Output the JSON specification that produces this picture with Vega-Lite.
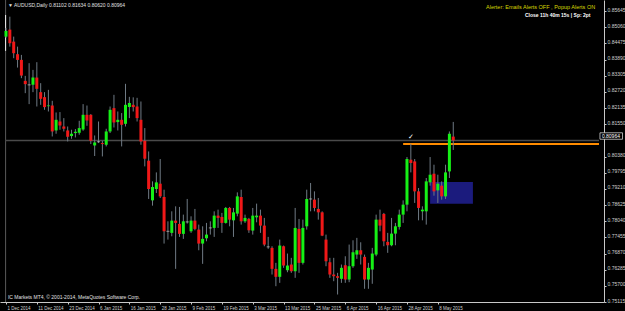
{
  "$schema": "https://vega.github.io/schema/vega-lite/v6.json",
  "width": 604,
  "height": 302,
  "autosize": {"type": "none"},
  "padding": {"left": 0, "top": 0, "right": 21, "bottom": 9},
  "background": "#000000",
  "config": {
    "view": {"stroke": null},
    "font": "Liberation Sans",
    "axis": {"grid": false, "labelFont": "Liberation Sans", "labelColor": "#d0d0d0", "domainColor": "#c8c8c8", "tickColor": "#c8c8c8", "title": null, "labelOverlap": false, "labelFlush": false, "tickSize": 2, "labelPadding": 1, "tickCount": 40},
    "axisY": {"labelOffset": -2, "format": ".5f", "labelBaseline": "middle", "labelFontSize": 5},
    "axisX": {"labelAlign": "left", "labelOffset": 1, "labelBaseline": "top", "labelFontSize": 4.5}
  },
  "datasets": {
    "candles": [
      {"i":0,"o":0.84722,"h":0.85036,"l":0.84675,"c":0.84928},
      {"i":1,"o":0.84975,"h":0.85444,"l":0.84360,"c":0.84483},
      {"i":2,"o":0.84541,"h":0.84722,"l":0.83941,"c":0.84122},
      {"i":3,"o":0.84086,"h":0.84360,"l":0.83602,"c":0.83880},
      {"i":4,"o":0.83880,"h":0.84060,"l":0.83218,"c":0.83312},
      {"i":5,"o":0.83121,"h":0.83301,"l":0.82676,"c":0.83002},
      {"i":6,"o":0.82976,"h":0.83761,"l":0.82279,"c":0.82976},
      {"i":7,"o":0.82976,"h":0.83518,"l":0.82712,"c":0.83240},
      {"i":8,"o":0.83240,"h":0.83797,"l":0.82192,"c":0.82832},
      {"i":9,"o":0.82712,"h":0.83038,"l":0.82253,"c":0.82470},
      {"i":10,"o":0.82531,"h":0.82712,"l":0.82073,"c":0.82170},
      {"i":11,"o":0.82205,"h":0.82795,"l":0.82012,"c":0.82230},
      {"i":12,"o":0.82228,"h":0.82398,"l":0.81108,"c":0.81289},
      {"i":13,"o":0.81325,"h":0.81976,"l":0.81206,"c":0.81711},
      {"i":14,"o":0.81650,"h":0.81990,"l":0.81350,"c":0.81505},
      {"i":15,"o":0.81469,"h":0.81772,"l":0.81289,"c":0.81386},
      {"i":16,"o":0.81325,"h":0.81469,"l":0.80927,"c":0.81097},
      {"i":17,"o":0.81123,"h":0.81350,"l":0.81024,"c":0.81206},
      {"i":18,"o":0.81231,"h":0.81375,"l":0.81072,"c":0.81278},
      {"i":19,"o":0.81242,"h":0.81675,"l":0.81169,"c":0.81411},
      {"i":20,"o":0.81361,"h":0.82279,"l":0.81314,"c":0.81892},
      {"i":21,"o":0.81892,"h":0.82228,"l":0.81494,"c":0.81686},
      {"i":22,"o":0.81892,"h":0.81918,"l":0.80833,"c":0.80952},
      {"i":23,"o":0.80782,"h":0.81144,"l":0.80400,"c":0.80891},
      {"i":24,"o":0.80916,"h":0.81650,"l":0.80869,"c":0.80916},
      {"i":25,"o":0.80869,"h":0.80952,"l":0.80385,"c":0.80833},
      {"i":26,"o":0.80808,"h":0.81386,"l":0.80747,"c":0.81289},
      {"i":27,"o":0.81289,"h":0.82192,"l":0.81231,"c":0.82073},
      {"i":28,"o":0.82134,"h":0.82615,"l":0.81433,"c":0.81614},
      {"i":29,"o":0.81628,"h":0.82012,"l":0.81325,"c":0.81711},
      {"i":30,"o":0.81711,"h":0.81954,"l":0.80747,"c":0.81530},
      {"i":31,"o":0.81566,"h":0.83013,"l":0.81469,"c":0.82253},
      {"i":32,"o":0.82170,"h":0.82542,"l":0.81772,"c":0.82315},
      {"i":33,"o":0.82253,"h":0.82524,"l":0.82012,"c":0.82170},
      {"i":34,"o":0.82192,"h":0.82506,"l":0.81650,"c":0.81772},
      {"i":35,"o":0.81711,"h":0.82373,"l":0.80808,"c":0.80927},
      {"i":36,"o":0.80952,"h":0.81411,"l":0.80025,"c":0.80302},
      {"i":37,"o":0.80230,"h":0.80566,"l":0.78845,"c":0.79206},
      {"i":38,"o":0.78795,"h":0.79482,"l":0.78603,"c":0.79279},
      {"i":39,"o":0.79206,"h":0.79807,"l":0.79062,"c":0.79446},
      {"i":40,"o":0.79398,"h":0.80291,"l":0.78881,"c":0.78939},
      {"i":41,"o":0.78917,"h":0.79181,"l":0.77230,"c":0.77675},
      {"i":42,"o":0.77675,"h":0.78036,"l":0.77374,"c":0.77675},
      {"i":43,"o":0.77617,"h":0.78398,"l":0.77494,"c":0.78061},
      {"i":44,"o":0.78061,"h":0.78578,"l":0.76315,"c":0.77978},
      {"i":45,"o":0.77942,"h":0.78556,"l":0.77472,"c":0.77581},
      {"i":46,"o":0.77581,"h":0.78278,"l":0.77400,"c":0.78036},
      {"i":47,"o":0.78014,"h":0.78845,"l":0.77953,"c":0.78014},
      {"i":48,"o":0.77675,"h":0.78217,"l":0.77617,"c":0.78061},
      {"i":49,"o":0.78061,"h":0.78484,"l":0.77711,"c":0.77761},
      {"i":50,"o":0.77736,"h":0.77917,"l":0.76988,"c":0.77230},
      {"i":51,"o":0.77230,"h":0.77855,"l":0.76496,"c":0.77400},
      {"i":52,"o":0.77422,"h":0.77978,"l":0.77313,"c":0.77555},
      {"i":53,"o":0.77797,"h":0.78036,"l":0.77555,"c":0.77797},
      {"i":54,"o":0.77797,"h":0.78398,"l":0.77472,"c":0.78242},
      {"i":55,"o":0.78242,"h":0.78459,"l":0.77797,"c":0.78159},
      {"i":56,"o":0.78195,"h":0.78340,"l":0.77617,"c":0.77978},
      {"i":57,"o":0.77978,"h":0.78556,"l":0.77953,"c":0.78520},
      {"i":58,"o":0.78520,"h":0.78556,"l":0.77855,"c":0.78097},
      {"i":59,"o":0.78072,"h":0.78520,"l":0.77472,"c":0.78361},
      {"i":60,"o":0.78314,"h":0.79084,"l":0.78217,"c":0.78939},
      {"i":61,"o":0.78917,"h":0.79181,"l":0.77917,"c":0.78036},
      {"i":62,"o":0.78036,"h":0.78278,"l":0.77978,"c":0.78159},
      {"i":63,"o":0.78123,"h":0.78159,"l":0.77617,"c":0.77711},
      {"i":64,"o":0.77700,"h":0.78520,"l":0.77555,"c":0.78242},
      {"i":65,"o":0.78181,"h":0.78676,"l":0.78000,"c":0.78242},
      {"i":66,"o":0.78242,"h":0.78459,"l":0.77617,"c":0.77881},
      {"i":67,"o":0.77881,"h":0.78159,"l":0.77133,"c":0.77194},
      {"i":68,"o":0.77111,"h":0.77472,"l":0.77038,"c":0.77111},
      {"i":69,"o":0.77074,"h":0.77133,"l":0.76110,"c":0.76315},
      {"i":70,"o":0.76315,"h":0.76532,"l":0.75687,"c":0.76026},
      {"i":71,"o":0.76026,"h":0.77374,"l":0.75809,"c":0.77158},
      {"i":72,"o":0.77133,"h":0.77158,"l":0.76352,"c":0.76435},
      {"i":73,"o":0.76265,"h":0.76869,"l":0.76193,"c":0.76435},
      {"i":74,"o":0.76471,"h":0.76713,"l":0.76171,"c":0.76229},
      {"i":75,"o":0.76229,"h":0.78520,"l":0.75990,"c":0.77797},
      {"i":76,"o":0.77761,"h":0.78122,"l":0.76171,"c":0.76532},
      {"i":77,"o":0.76532,"h":0.78097,"l":0.76471,"c":0.77797},
      {"i":78,"o":0.77855,"h":0.79181,"l":0.77736,"c":0.78845},
      {"i":79,"o":0.78845,"h":0.79424,"l":0.78398,"c":0.78845},
      {"i":80,"o":0.78820,"h":0.79120,"l":0.78398,"c":0.78520},
      {"i":81,"o":0.78484,"h":0.78881,"l":0.78097,"c":0.78361},
      {"i":82,"o":0.78361,"h":0.78398,"l":0.77500,"c":0.77519},
      {"i":83,"o":0.77374,"h":0.77555,"l":0.76410,"c":0.76590},
      {"i":84,"o":0.76554,"h":0.76713,"l":0.75990,"c":0.76110},
      {"i":85,"o":0.76110,"h":0.76713,"l":0.75868,"c":0.76049},
      {"i":86,"o":0.76049,"h":0.76171,"l":0.75386,"c":0.75990},
      {"i":87,"o":0.75954,"h":0.76471,"l":0.75809,"c":0.76352},
      {"i":88,"o":0.76446,"h":0.76771,"l":0.75809,"c":0.75929},
      {"i":89,"o":0.75929,"h":0.77194,"l":0.75832,"c":0.76410},
      {"i":90,"o":0.76410,"h":0.77349,"l":0.76352,"c":0.76916},
      {"i":91,"o":0.76832,"h":0.77436,"l":0.76677,"c":0.76988},
      {"i":92,"o":0.76988,"h":0.77277,"l":0.76471,"c":0.76832},
      {"i":93,"o":0.76749,"h":0.76832,"l":0.75593,"c":0.75929},
      {"i":94,"o":0.75929,"h":0.76532,"l":0.75593,"c":0.76352},
      {"i":95,"o":0.76290,"h":0.77074,"l":0.75774,"c":0.76869},
      {"i":96,"o":0.76832,"h":0.78278,"l":0.76771,"c":0.78097},
      {"i":97,"o":0.78097,"h":0.78459,"l":0.77675,"c":0.77881},
      {"i":98,"o":0.78303,"h":0.78340,"l":0.77133,"c":0.77313},
      {"i":99,"o":0.77291,"h":0.77617,"l":0.76894,"c":0.77169},
      {"i":100,"o":0.77169,"h":0.78159,"l":0.77133,"c":0.77591},
      {"i":101,"o":0.77591,"h":0.77978,"l":0.77169,"c":0.77855},
      {"i":102,"o":0.77833,"h":0.78459,"l":0.77736,"c":0.78278},
      {"i":103,"o":0.78278,"h":0.78795,"l":0.77978,"c":0.78639},
      {"i":104,"o":0.78639,"h":0.80363,"l":0.78398,"c":0.80291},
      {"i":105,"o":0.80266,"h":0.80844,"l":0.79807,"c":0.80147},
      {"i":106,"o":0.80205,"h":0.80291,"l":0.78701,"c":0.79120},
      {"i":107,"o":0.79120,"h":0.79242,"l":0.78072,"c":0.78520},
      {"i":108,"o":0.78398,"h":0.78578,"l":0.78072,"c":0.78459},
      {"i":109,"o":0.78398,"h":0.79604,"l":0.77917,"c":0.79482},
      {"i":110,"o":0.79446,"h":0.80363,"l":0.79326,"c":0.79723},
      {"i":111,"o":0.79759,"h":0.80085,"l":0.78964,"c":0.79120},
      {"i":112,"o":0.79156,"h":0.79723,"l":0.78701,"c":0.79398},
      {"i":113,"o":0.79326,"h":0.79482,"l":0.78820,"c":0.78939},
      {"i":114,"o":0.78939,"h":0.80085,"l":0.78845,"c":0.79807},
      {"i":115,"o":0.79843,"h":0.81289,"l":0.79604,"c":0.81206},
      {"i":116,"o":0.81102,"h":0.81634,"l":0.80620,"c":0.80964}
    ]
  },
  "layer": [
    {
      "data": {"values": [{"x1": 110.0, "x2": 121.1, "y1": 0.79460, "y2": 0.78676}]},
      "mark": {"type": "rect", "color": "#1b1b7d"},
      "encoding": {
        "x": {"field": "x1", "type": "quantitative", "scale": {"domain": [-0.255, 153.8], "nice": false, "zero": false},
              "axis": {"values": [0,8,16,24,32,40,48,56,64,72,80,88,96,104,112], "tickCount": 40, "labelExpr": "['1 Dec 2014','11 Dec 2014','23 Dec 2014','6 Jan 2015','16 Jan 2015','28 Jan 2015','9 Feb 2015','19 Feb 2015','3 Mar 2015','13 Mar 2015','25 Mar 2015','6 Apr 2015','16 Apr 2015','28 Apr 2015','8 May 2015'][round(datum.value/8)]"}},
        "x2": {"field": "x2"},
        "y": {"field": "y1", "type": "quantitative", "scale": {"domain": [0.75115, 0.86048], "nice": false, "zero": false},
              "axis": {"orient": "right", "values": [0.85645,0.85060,0.84475,0.83890,0.83305,0.82720,0.82135,0.81550,0.80380,0.79795,0.79210,0.78625,0.78040,0.77455,0.76870,0.76285,0.75700,0.75115], "tickCount": 40, "format": ".5f", "labelOverlap": false}},
        "y2": {"field": "y2"}
      }
    },
    {
      "data": {"values": [{"a": -0.1, "p1": 0.75115, "p2": 0.86048}]},
      "mark": {"type": "rule", "color": "#5a5a5a", "strokeWidth": 1},
      "encoding": {"x": {"field": "a", "type": "quantitative"}, "y": {"field": "p1", "type": "quantitative"}, "y2": {"field": "p2"}}
    },
    {
      "data": {"values": [{"a": -0.1, "p1": 0.84205, "p2": 0.85506}]},
      "mark": {"type": "rule", "color": "#f0f0f0", "strokeWidth": 1},
      "encoding": {"x": {"field": "a", "type": "quantitative"}, "y": {"field": "p1", "type": "quantitative"}, "y2": {"field": "p2"}}
    },
    {
      "data": {"values": [{"p": 0.80964, "a": -0.255, "b": 153.8}]},
      "mark": {"type": "rule", "color": "#4a4a4a", "strokeWidth": 1.5},
      "encoding": {"x": {"field": "a", "type": "quantitative"}, "x2": {"field": "b"}, "y": {"field": "p", "type": "quantitative"}}
    },
    {
      "data": {"values": [{"p": 0.80833, "a": 103.0, "b": 153.8}]},
      "mark": {"type": "rule", "color": "#ff8c00", "strokeWidth": 2},
      "encoding": {"x": {"field": "a", "type": "quantitative"}, "x2": {"field": "b"}, "y": {"field": "p", "type": "quantitative"}}
    },
    {
      "data": {"name": "candles"},
      "mark": {"type": "rule", "color": "#6f7a84", "strokeWidth": 1},
      "encoding": {"x": {"field": "i", "type": "quantitative"}, "y": {"field": "l", "type": "quantitative"}, "y2": {"field": "h"}}
    },
    {
      "data": {"name": "candles"},
      "mark": {"type": "bar", "size": 3},
      "encoding": {
        "x": {"field": "i", "type": "quantitative"},
        "y": {"field": "o", "type": "quantitative"},
        "y2": {"field": "c"},
        "color": {"condition": {"test": "datum.c > datum.o", "value": "#16f016"}, "value": "#f01818"}
      }
    },
    {
      "data": {"name": "candles"},
      "transform": [{"filter": "datum.o == datum.c"}],
      "mark": {"type": "tick", "orient": "horizontal", "size": 3, "thickness": 1, "color": "#c8c8c8"},
      "encoding": {"x": {"field": "i", "type": "quantitative"}, "y": {"field": "c", "type": "quantitative"}}
    },
    {
      "data": {"values": [{"a": 154.05, "b": 159.9, "p1": 0.81241, "p2": 0.81007}]},
      "mark": {"type": "rect", "fill": "#000000", "stroke": "#d0d0d0", "strokeWidth": 0.8, "clip": false},
      "encoding": {"x": {"field": "a", "type": "quantitative"}, "x2": {"field": "b"}, "y": {"field": "p1", "type": "quantitative"}, "y2": {"field": "p2"}}
    },
    {
      "data": {"values": [{"t": "0.80964"}]},
      "mark": {"type": "text", "color": "#ffffff", "fontSize": 5, "align": "left", "baseline": "middle", "clip": false},
      "encoding": {"x": {"datum": 154.55, "type": "quantitative"}, "y": {"datum": 0.81124, "type": "quantitative"}, "text": {"field": "t"}}
    },
    {
      "data": {"values": [{"t": "✓"}]},
      "mark": {"type": "text", "color": "#ffffff", "fontSize": 7, "align": "center", "baseline": "middle"},
      "encoding": {"x": {"datum": 105.1, "type": "quantitative"}, "y": {"datum": 0.81097, "type": "quantitative"}, "text": {"field": "t"}}
    },
    {
      "data": {"values": [{"t": "▼ AUDUSD,Daily  0.81102 0.81634 0.80620 0.80964"}]},
      "mark": {"type": "text", "color": "#e0e0e0", "fontSize": 5, "align": "left", "baseline": "middle"},
      "encoding": {"x": {"datum": 0.5, "type": "quantitative"}, "y": {"datum": 0.85867, "type": "quantitative"}, "text": {"field": "t"}}
    },
    {
      "data": {"values": [{"t": "Alerter:  Emails Alerts OFF , Popup Alerts ON"}]},
      "mark": {"type": "text", "color": "#d8d800", "fontSize": 5.5, "align": "right", "baseline": "middle"},
      "encoding": {"x": {"datum": 152.8, "type": "quantitative"}, "y": {"datum": 0.85806, "type": "quantitative"}, "text": {"field": "t"}}
    },
    {
      "data": {"values": [{"t": "Close 11h 40m 15s | Sp: 2pt"}]},
      "mark": {"type": "text", "color": "#ffffff", "fontSize": 5, "fontWeight": "bold", "align": "right", "baseline": "middle"},
      "encoding": {"x": {"datum": 151.6, "type": "quantitative"}, "y": {"datum": 0.85517, "type": "quantitative"}, "text": {"field": "t"}}
    },
    {
      "data": {"values": [{"t": "IC Markets MT4, © 2001-2014, MetaQuotes Software Corp."}]},
      "mark": {"type": "text", "color": "#e0e0e0", "fontSize": 5, "align": "left", "baseline": "middle"},
      "encoding": {"x": {"datum": 0.5, "type": "quantitative"}, "y": {"datum": 0.75278, "type": "quantitative"}, "text": {"field": "t"}}
    }
  ]
}
